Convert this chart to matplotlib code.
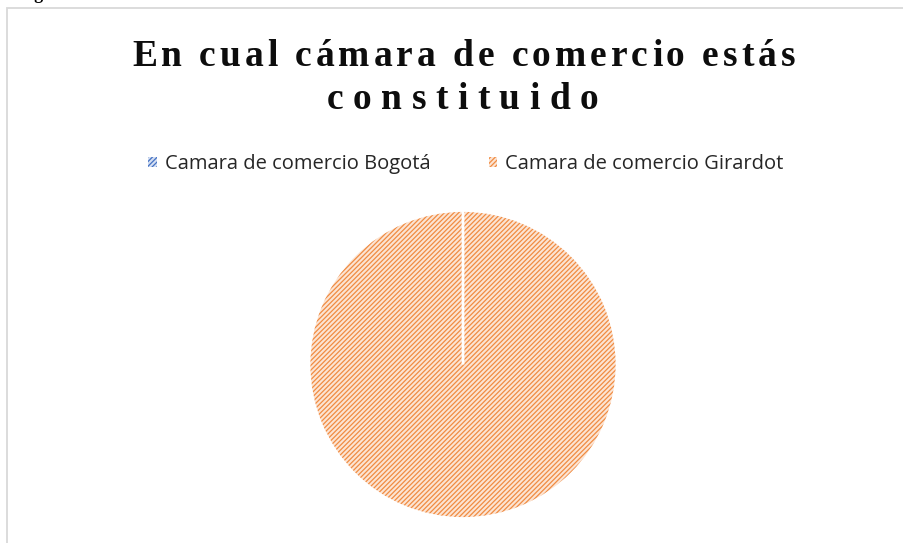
import matplotlib
matplotlib.use("Agg")
import matplotlib.pyplot as plt
from matplotlib.patches import Rectangle
from matplotlib.font_manager import FontProperties, findfont
from matplotlib.ft2font import FT2Font

# ---- data ----
categories = ["Camara de comercio Bogotá", "Camara de comercio Girardot"]
values = [0, 100]
title_lines = ["En cual cámara de comercio estás", "constituido"]
caption = "Figura 3"

face_colors = ["#D5DFF2", "#FCE4D3"]
hatch_colors = ["#4472C4", "#F08C42"]

W, H, DPI = 904, 543, 100
plt.rcParams["hatch.linewidth"] = 0.9
fig = plt.figure(figsize=(W / DPI, H / DPI), dpi=DPI)

def fx(px):
    return px / W

def fy(py_from_top):
    return 1 - py_from_top / H

# outer chart frame
fig.patches.append(Rectangle((fx(7), fy(560)), fx(920) - fx(7), fy(8) - fy(560),
                             transform=fig.transFigure, fill=False,
                             edgecolor="#D9D9D9", linewidth=1.3, zorder=0))

# cut-off caption at very top
fig.text(fx(18), fy(-1), caption, fontsize=13, fontweight="bold",
         family=["Liberation Serif", "DejaVu Serif"], ha="left", va="baseline")

# spaced title
def spaced_text(s, left_px, right_px, baseline_px, size):
    fp = FontProperties(family="Liberation Serif", weight="bold", size=size)
    font = FT2Font(findfont(fp))
    font.set_size(size, DPI)
    advs = []
    for ch in s:
        g = font.load_char(ord(ch))
        advs.append(g.linearHoriAdvance / 65536)
    gap = ((right_px - left_px) - sum(advs)) / (len(s) - 1)
    x = left_px
    for ch, a in zip(s, advs):
        fig.text(fx(x), fy(baseline_px), ch, fontproperties=fp,
                 ha="left", va="baseline", color="#0D0D0D")
        x += a + gap

spaced_text(title_lines[0], 132, 795, 66, 27)
spaced_text(title_lines[1], 327, 598, 109, 27)

# pie
cx, cy, r = 463, 364.5, 154
ax = fig.add_axes([fx(cx - r), (H - cy - r) / H, 2 * r / W, 2 * r / H])
wedges, _ = ax.pie(values, startangle=90, counterclock=False, radius=1)
for w, fc, hc in zip(wedges, face_colors, hatch_colors):
    w.set_facecolor(fc)
    w.set_edgecolor(hc)
    w.set_linewidth(0)
    w.set_hatch("///////")
ax.pie(values, startangle=90, counterclock=False, radius=1,
       wedgeprops=dict(facecolor="none", edgecolor="white", linewidth=2))
ax.set_xlim(-1, 1)
ax.set_ylim(-1, 1)
ax.set_aspect("equal")
ax.axis("off")

leg = fig.legend(wedges, categories, loc="center", bbox_to_anchor=(fx(466), fy(164)),
                 ncol=2, frameon=False, handlelength=0.42, handleheight=0.42,
                 handletextpad=0.4, columnspacing=2.9,
                 prop=FontProperties(family="Open Sans", size=14.5))
for t in leg.get_texts():
    t.set_color("#262626")

fig.savefig("out.png", dpi=DPI)
